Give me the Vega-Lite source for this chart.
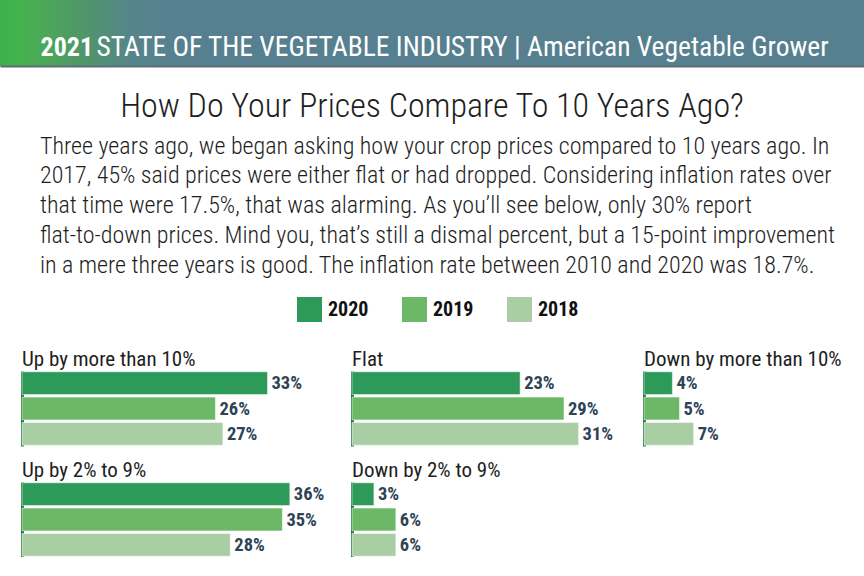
{
  "$schema": "https://vega.github.io/schema/vega-lite/v6.json",
  "padding": 0,
  "background": "#ffffff",
  "columns": 1,
  "center": true,
  "spacing": 10,
  "config": {
    "font": "Roboto Condensed, Liberation Sans Narrow, DejaVu Sans Condensed, Roboto",
    "view": {"stroke": null},
    "axisY": {"labels": false, "ticks": false, "grid": false, "domainColor": "#1b7a3d", "domainWidth": 3, "zindex": 1, "title": null},
    "title": {"anchor": "start", "frame": "group", "fontWeight": "normal", "color": "#1e1e1e", "fontSize": 21, "offset": 1}
  },
  "datasets": {
    "banner": [{"x0": 0, "x1": 1, "y0": 0, "y1": 1}],
    "prices": [
      {"cat": "Up by more than 10%", "year": "2020", "value": 0.33},
      {"cat": "Up by more than 10%", "year": "2019", "value": 0.26},
      {"cat": "Up by more than 10%", "year": "2018", "value": 0.27},
      {"cat": "Flat", "year": "2020", "value": 0.23},
      {"cat": "Flat", "year": "2019", "value": 0.29},
      {"cat": "Flat", "year": "2018", "value": 0.31},
      {"cat": "Down by more than 10%", "year": "2020", "value": 0.04},
      {"cat": "Down by more than 10%", "year": "2019", "value": 0.05},
      {"cat": "Down by more than 10%", "year": "2018", "value": 0.07},
      {"cat": "Up by 2% to 9%", "year": "2020", "value": 0.36},
      {"cat": "Up by 2% to 9%", "year": "2019", "value": 0.35},
      {"cat": "Up by 2% to 9%", "year": "2018", "value": 0.28},
      {"cat": "Down by 2% to 9%", "year": "2020", "value": 0.03},
      {"cat": "Down by 2% to 9%", "year": "2019", "value": 0.06},
      {"cat": "Down by 2% to 9%", "year": "2018", "value": 0.06}
    ]
  },
  "concat": [
    {
      "data": {"name": "banner"},
      "width": 864,
      "height": 66,
      "title": {"text": "How Do Your Prices Compare To 10 Years Ago?", "orient": "bottom", "anchor": "middle", "frame": "group", "baseline": "alphabetic", "offset": 51, "fontSize": 34, "color": "#1e1e1e", "fontWeight": 300},
      "mark": {"type": "rect", "fill": {"gradient": "linear", "x1": 0, "x2": 1, "y1": 0, "y2": 0, "stops": [
        {"offset": 0, "color": "#3cb04a"},
        {"offset": 0.025, "color": "#45b24e"},
        {"offset": 0.05, "color": "#4aa857"},
        {"offset": 0.1, "color": "#4f956a"},
        {"offset": 0.15, "color": "#55868a"},
        {"offset": 0.2, "color": "#56808f"},
        {"offset": 1, "color": "#56808f"}
      ]}},
      "encoding": {
        "x": {"field": "x0", "type": "quantitative", "scale": {"domain": [0, 1], "nice": false},
          "axis": {"orient": "bottom", "domain": true, "domainColor": "#5e6d77", "domainWidth": 2, "ticks": false, "labels": false, "grid": false, "zindex": 1,
            "title": "STATE OF THE VEGETABLE INDUSTRY | American Vegetable Grower", "titleX": 96, "titleY": -11, "titleAlign": "left", "titleAnchor": "start", "titleFontSize": 27.5, "titleFontWeight": "normal", "titleColor": "#ffffff", "titleBaseline": "alphabetic"}},
        "x2": {"field": "x1"},
        "y": {"field": "y0", "type": "quantitative", "scale": {"domain": [0, 1], "nice": false},
          "axis": {"domain": false, "ticks": false, "labels": false, "grid": false, "zindex": 1, "minExtent": 0, "maxExtent": 0,
            "title": "2021", "titleAngle": 0, "titleX": 40, "titleY": 55, "titleAlign": "left", "titleBaseline": "alphabetic", "titleFontSize": 26, "titleFontWeight": "bold", "titleColor": "#ffffff"}},
        "y2": {"field": "y1"}
      }
    },
    {
      "title": {
        "text": [
          "Three years ago, we began asking how your crop prices compared to 10 years ago. In",
          "2017, 45% said prices were either flat or had dropped. Considering inflation rates over",
          "that time were 17.5%, that was alarming. As you’ll see below, only 30% report",
          "flat-to-down prices. Mind you, that’s still a dismal percent, but a 15-point improvement",
          "in a mere three years is good. The inflation rate between 2010 and 2020 was 18.7%."
        ],
        "anchor": "start", "frame": "bounds", "dx": 40, "fontSize": 24, "lineHeight": 29.75, "offset": 71.5, "color": "#1e1e1e", "fontWeight": 300
      },
      "columns": 3,
      "spacing": {"row": 14, "column": 0},
      "concat": [
        {
          "data": {"name": "prices"},
          "width": 310, "height": 75,
          "title": {"text": "Up by more than 10%"},
          "transform": [{"filter": "datum.cat === 'Up by more than 10%'"}],
          "encoding": {
            "y": {"field": "year", "type": "nominal", "sort": ["2020", "2019", "2018"], "scale": {"paddingInner": 0.1, "paddingOuter": 0.03}, "axis": {"minExtent": 22, "maxExtent": 22}},
            "x": {"field": "value", "type": "quantitative", "scale": {"domain": [0, 0.41667], "nice": false}, "axis": null}
          },
          "layer": [
            {"mark": {"type": "bar", "stroke": "#ffffff", "strokeOpacity": 0.5, "strokeWidth": 1},
             "encoding": {"color": {"field": "year", "type": "nominal", "scale": {"domain": ["2020", "2019", "2018"], "range": ["#2e9a5a", "#6db866", "#a9cea4"]},
               "legend": {"title": null, "orient": "none", "legendX": 297, "legendY": 297, "direction": "horizontal", "columns": 3, "symbolType": "square", "symbolSize": 625, "symbolStrokeWidth": 0, "labelFontSize": 20, "labelFontWeight": "bold", "labelColor": "#111111", "labelOffset": 6, "columnPadding": 33, "padding": 0}}}},
            {"mark": {"type": "text", "align": "left", "baseline": "middle", "dx": 4, "fontSize": 18.5, "fontWeight": "bold", "color": "#2d4356"},
             "encoding": {"text": {"field": "value", "type": "quantitative", "format": ".0%"}}}
          ]
        },
        {
          "data": {"name": "prices"},
          "width": 270, "height": 75,
          "title": {"text": "Flat"},
          "transform": [{"filter": "datum.cat === 'Flat'"}],
          "encoding": {
            "y": {"field": "year", "type": "nominal", "sort": ["2020", "2019", "2018"], "scale": {"paddingInner": 0.1, "paddingOuter": 0.03}, "axis": {"minExtent": 19.5, "maxExtent": 19.5}},
            "x": {"field": "value", "type": "quantitative", "scale": {"domain": [0, 0.36936], "nice": false}, "axis": null}
          },
          "layer": [
            {"mark": {"type": "bar", "stroke": "#ffffff", "strokeOpacity": 0.5, "strokeWidth": 1},
             "encoding": {"color": {"field": "year", "type": "nominal", "scale": {"domain": ["2020", "2019", "2018"], "range": ["#2e9a5a", "#6db866", "#a9cea4"]}}}},
            {"mark": {"type": "text", "align": "left", "baseline": "middle", "dx": 4, "fontSize": 18.5, "fontWeight": "bold", "color": "#2d4356"},
             "encoding": {"text": {"field": "value", "type": "quantitative", "format": ".0%"}}}
          ]
        },
        {
          "data": {"name": "prices"},
          "width": 198, "height": 75,
          "title": {"text": "Down by more than 10%"},
          "transform": [{"filter": "datum.cat === 'Down by more than 10%'"}],
          "encoding": {
            "y": {"field": "year", "type": "nominal", "sort": ["2020", "2019", "2018"], "scale": {"paddingInner": 0.1, "paddingOuter": 0.03}, "axis": {"minExtent": 22, "maxExtent": 22}},
            "x": {"field": "value", "type": "quantitative", "scale": {"domain": [0, 0.27887], "nice": false}, "axis": null}
          },
          "layer": [
            {"mark": {"type": "bar", "stroke": "#ffffff", "strokeOpacity": 0.5, "strokeWidth": 1},
             "encoding": {"color": {"field": "year", "type": "nominal", "scale": {"domain": ["2020", "2019", "2018"], "range": ["#2e9a5a", "#6db866", "#a9cea4"]}}}},
            {"mark": {"type": "text", "align": "left", "baseline": "middle", "dx": 4, "fontSize": 18.5, "fontWeight": "bold", "color": "#2d4356"},
             "encoding": {"text": {"field": "value", "type": "quantitative", "format": ".0%"}}}
          ]
        },
        {
          "data": {"name": "prices"},
          "width": 310, "height": 75,
          "title": {"text": "Up by 2% to 9%"},
          "transform": [{"filter": "datum.cat === 'Up by 2% to 9%'"}],
          "encoding": {
            "y": {"field": "year", "type": "nominal", "sort": ["2020", "2019", "2018"], "scale": {"paddingInner": 0.1, "paddingOuter": 0.03}, "axis": {"minExtent": 22, "maxExtent": 22}},
            "x": {"field": "value", "type": "quantitative", "scale": {"domain": [0, 0.41667], "nice": false}, "axis": null}
          },
          "layer": [
            {"mark": {"type": "bar", "stroke": "#ffffff", "strokeOpacity": 0.5, "strokeWidth": 1},
             "encoding": {"color": {"field": "year", "type": "nominal", "scale": {"domain": ["2020", "2019", "2018"], "range": ["#2e9a5a", "#6db866", "#a9cea4"]}}}},
            {"mark": {"type": "text", "align": "left", "baseline": "middle", "dx": 4, "fontSize": 18.5, "fontWeight": "bold", "color": "#2d4356"},
             "encoding": {"text": {"field": "value", "type": "quantitative", "format": ".0%"}}}
          ]
        },
        {
          "data": {"name": "prices"},
          "width": 270, "height": 75,
          "title": {"text": "Down by 2% to 9%"},
          "transform": [{"filter": "datum.cat === 'Down by 2% to 9%'"}],
          "encoding": {
            "y": {"field": "year", "type": "nominal", "sort": ["2020", "2019", "2018"], "scale": {"paddingInner": 0.1, "paddingOuter": 0.03}, "axis": {"minExtent": 19.5, "maxExtent": 19.5}},
            "x": {"field": "value", "type": "quantitative", "scale": {"domain": [0, 0.36936], "nice": false}, "axis": null}
          },
          "layer": [
            {"mark": {"type": "bar", "stroke": "#ffffff", "strokeOpacity": 0.5, "strokeWidth": 1},
             "encoding": {"color": {"field": "year", "type": "nominal", "scale": {"domain": ["2020", "2019", "2018"], "range": ["#2e9a5a", "#6db866", "#a9cea4"]}}}},
            {"mark": {"type": "text", "align": "left", "baseline": "middle", "dx": 4, "fontSize": 18.5, "fontWeight": "bold", "color": "#2d4356"},
             "encoding": {"text": {"field": "value", "type": "quantitative", "format": ".0%"}}}
          ]
        }
      ]
    }
  ]
}
